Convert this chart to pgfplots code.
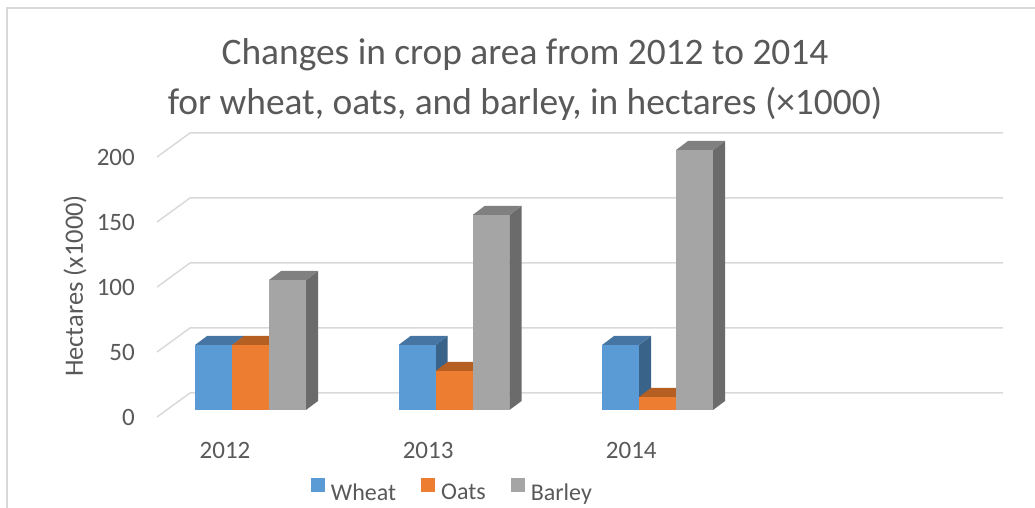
\documentclass[border=0pt]{standalone}
\usepackage{pgfplots}
\pgfplotsset{compat=1.18}
\usepackage{fontspec}
\setmainfont{Carlito}
\definecolor{txt}{HTML}{595959}
\definecolor{grd}{HTML}{D9D9D9}
\definecolor{wF}{HTML}{5B9BD5}
\definecolor{wT}{HTML}{4675A3}
\definecolor{wS}{HTML}{3A6389}
\definecolor{oF}{HTML}{ED7D31}
\definecolor{oT}{HTML}{B55F22}
\definecolor{oS}{HTML}{A35A23}
\definecolor{bF}{HTML}{A5A5A5}
\definecolor{bT}{HTML}{808080}
\definecolor{bS}{HTML}{6B6B6B}
% #1 left x of front face, #2 value, #3 front, #4 top, #5 side
\newcommand\threedbar[5]{%
  \pgfmathsetmacro\xa{#1}%
  \pgfmathsetmacro\xb{#1+0.1818}%
  \pgfmathsetmacro\xc{#1+0.1818+0.059}%
  \pgfmathsetmacro\xd{#1+0.059}%
  \pgfmathsetmacro\yt{#2+6.923}%
  \addplot[fill=#5, draw=none, forget plot] coordinates {(\xb,0) (\xc,6.923) (\xc,\yt) (\xb,#2)} -- cycle;
  \addplot[fill=#4, draw=none, forget plot] coordinates {(\xa,#2) (\xb,#2) (\xc,\yt) (\xd,\yt)} -- cycle;
  \addplot[fill=#3, draw=none, forget plot] coordinates {(\xa,0) (\xb,0) (\xb,#2) (\xa,#2)} -- cycle;
}
\begin{document}
\begin{tikzpicture}
\useasboundingbox (0,0) rectangle (1035pt,508pt);
\draw[grd, line width=1.5pt] (7pt,0pt) -- (7pt,500pt) -- (1040pt,500pt);
\node[anchor=base, text=txt, font=\fontsize{37.4}{44}\selectfont] at (525pt,443pt) {Changes in crop area from 2012 to 2014};
\node[anchor=base, text=txt, font=\fontsize{37.4}{44}\selectfont] at (525pt,393pt) {for wheat, oats, and barley, in hectares (×1000)};
\node[rotate=90, text=txt, font=\fontsize{26.5}{31}\selectfont] at (75pt,222pt) {Hectares (x1000)};
\begin{axis}[
  at={(157pt,91pt)}, anchor=south west,
  width=846pt, height=287pt, scale only axis,
  xmin=-0.45946, xmax=3.6978, ymin=-5.385, ymax=215.385,
  axis line style={draw=none}, major tick length=0pt, tick style={draw=none},
  ytick={-5.385,44.615,94.615,144.615,194.615}, yticklabels={0,50,100,150,200},
  xtick={-0.125,0.873,1.871}, xticklabels={2012,2013,2014},
  ticklabel style={font=\fontsize{25}{30}\selectfont, text=txt},
  xticklabel style={inner sep=0pt, anchor=north, yshift=-25pt},
  yticklabel style={inner sep=0pt, anchor=east, xshift=-22pt},
  clip=false,
  legend style={at={(axis description cs:0.182,-0.2544)}, anchor=west, draw=none, fill=none,
    inner sep=0pt, outer sep=0pt, font=\fontsize{24}{29}\selectfont, text=txt,
    nodes={inner sep=0pt},
    /tikz/every odd column/.append style={column sep=6pt},
    /tikz/every even column/.append style={column sep=25pt}},
  legend columns=3,
  legend image code/.code={\fill[#1] (0pt,0pt) rectangle (14pt,14pt);},
]
% gridlines
\addplot[grd, line width=1.5pt, forget plot] coordinates {(-0.45946,-5.385) (-0.2973,13.077) (3.6978,13.077)};
\addplot[grd, line width=1.5pt, forget plot] coordinates {(-0.45946,44.615) (-0.2973,63.077) (3.6978,63.077)};
\addplot[grd, line width=1.5pt, forget plot] coordinates {(-0.45946,94.615) (-0.2973,113.077) (3.6978,113.077)};
\addplot[grd, line width=1.5pt, forget plot] coordinates {(-0.45946,144.615) (-0.2973,163.077) (3.6978,163.077)};
\addplot[grd, line width=1.5pt, forget plot] coordinates {(-0.45946,194.615) (-0.2973,213.077) (3.6978,213.077)};
% 2012
\threedbar{0-0.2727}{50}{wF}{wT}{wS}
\threedbar{0-0.0909}{50}{oF}{oT}{oS}
\threedbar{0+0.0909}{100}{bF}{bT}{bS}
% 2013
\threedbar{1-0.2727}{50}{wF}{wT}{wS}
\threedbar{1-0.0909}{30}{oF}{oT}{oS}
\threedbar{1+0.0909}{150}{bF}{bT}{bS}
% 2014
\threedbar{2-0.2727}{50}{wF}{wT}{wS}
\threedbar{2-0.0909}{10}{oF}{oT}{oS}
\threedbar{2+0.0909}{200}{bF}{bT}{bS}
\addlegendimage{fill=wF, draw=none}
\addlegendentry{Wheat}
\addlegendimage{fill=oF, draw=none}
\addlegendentry{Oats}
\addlegendimage{fill=bF, draw=none}
\addlegendentry{Barley}
\end{axis}
\end{tikzpicture}
\end{document}
